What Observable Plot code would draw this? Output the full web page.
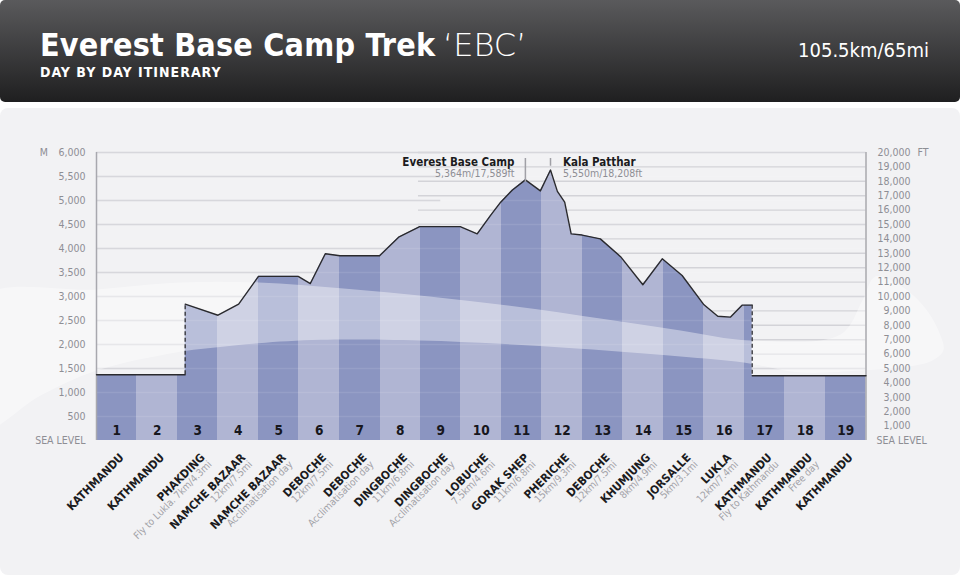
<!DOCTYPE html>
<html>
<head>
<meta charset="utf-8">
<script src="https://cdn.jsdelivr.net/npm/d3@7"></script>
<script src="https://cdn.jsdelivr.net/npm/@observablehq/plot@0.6"></script>
<style>
  html, body { margin: 0; padding: 0; background: #ffffff; }
  #wrap { position: relative; width: 960px; height: 577px; overflow: hidden; }
  #header { position: absolute; left: 0; top: 0; width: 960px; height: 102px;
            background: linear-gradient(#5a5a5c, #1f1f20); border-radius: 5px; }
  #header svg { position: absolute; left: 0; top: 0; }
  #panel { position: absolute; left: 0; top: 108px; width: 960px; height: 467px;
           background: #f2f2f4; border-radius: 8px; overflow: hidden; }
  #panel svg { display: block; }
</style>
</head>
<body>
<div id="wrap">
  <div id="header">
    <svg width="960" height="102">
      <text x="40" y="56" fill="#ffffff" font-family="DejaVu Sans Condensed" font-weight="bold" font-size="32" letter-spacing="0.2">Everest Base Camp Trek</text>
      <text x="443" y="56" fill="#ffffff" font-family="DejaVu Sans" font-weight="200" font-size="32">‘EBC’</text>
      <text x="40" y="77" fill="#ffffff" font-family="DejaVu Sans Condensed" font-weight="bold" font-size="14" letter-spacing="1">DAY BY DAY ITINERARY</text>
      <text x="929" y="57" fill="#ffffff" font-family="DejaVu Sans Condensed" font-size="20" text-anchor="end">105.5km/65mi</text>
    </svg>
  </div>
  <div id="panel"></div>
</div>
<script>
// ---------- data ----------
const days = [1,2,3,4,5,6,7,8,9,10,11,12,13,14,15,16,17,18,19];
const places = ["KATHMANDU","KATHMANDU","PHAKDING","NAMCHE BAZAAR","NAMCHE BAZAAR","DEBOCHE","DEBOCHE",
  "DINGBOCHE","DINGBOCHE","LOBUCHE","GORAK SHEP","PHERICHE","DEBOCHE","KHUMJUNG","JORSALLE","LUKLA",
  "KATHMANDU","KATHMANDU","KATHMANDU"];
const notes = ["","","Fly to Lukla. 7km/4.3mi","12km/7.5mi","Acclimatisation day","12km/7.5mi",
  "Acclimatisation day","11km/6.8mi","Acclimatisation day","7.5km/4.6mi","11km/6.8mi","15km/9.3mi",
  "12km/7.5mi","8km/4.9mi","5km/3.1mi","12km/7.4mi","Fly to Kathmandu","Free day",""];
const meterTicks = [0,500,1000,1500,2000,2500,3000,3500,4000,4500,5000,5500,6000];
const feetTicks = [0,1000,2000,3000,4000,5000,6000,7000,8000,9000,10000,11000,12000,13000,14000,
  15000,16000,17000,18000,19000,20000];
// the right-hand axis of the picture puts 20,000 ft level with 6,000 m
const feetTop = 20000, meterTop = 6000;

// elevation profile: position (in day columns) and metres
const profileDay = [0.5,2.69,2.69,3.50,4.01,4.50,5.48,5.78,6.15,6.51,7.49,7.96,8.48,9.48,9.90,10.23,10.48,
  10.77,11.09,11.46,11.71,11.88,12.06,12.22,12.49,12.94,13.44,13.99,14.47,14.96,15.50,15.84,16.15,16.44,
  16.69,16.69,19.5];
const profileElev = [1370,1370,2840,2610,2840,3420,3420,3270,3890,3850,3850,4235,4455,4455,4305,4690,4965,
  5220,5430,5200,5635,5190,4965,4305,4280,4200,3830,3245,3785,3437,2827,2590,2570,2820,
  2820,1350,1350];

// summit annotations
const peakIndex = [18, 20];
const peakNames = ["Everest Base Camp", "Kala Patthar"];
const peakHeights = ["5,364m/17,589ft", "5,550m/18,208ft"];
const peakLeaderTop = [5875, 5875];
const peakLeaderBottom = [5380, 5715];

// decorative swoosh outline (day position, metres)
const swooshDay = [-2.36,0.5,2.57,4.5,6.6,8.72,10.85,12.94,14.92,16.65,18.87,19.41,19.73,20.35,20.97,21.34,21.41,
  21.09,20.35,19.36,17.88,16.48,14.92,12.45,10.48,8.5,6.03,4.5,3.49,2.5,0.5,-0.88,-2.36];
const swooshElev = [2958,3146,3292,3292,3167,3000,2792,2542,2292,2083,2208,2917,3417,3229,2750,2188,1875,
  1646,1521,1458,1417,1625,1750,1910,2014,2083,2098,2027,1944,1840,1458,938,208];

const meterGridDays = [0.5, 9.0];
const feetGridDays = [8.45, 19.5];

const darkStripe = "#8b95c1", lightStripe = "#b0b5d3";

// ---------- tables ----------
const dayRows = days.map((d, i) => ({day: d, place: places[i], note: notes[i]}));
let seg = 0;
const profile = profileDay.map((d, i) => {
  if (i > 0 && d === profileDay[i - 1]) seg++;
  return {day: d, elev: profileElev[i], seg};
});
const jumps = [];
for (let i = 1; i < profileDay.length; i++) {
  if (profileDay[i] === profileDay[i - 1]) jumps.push({day: profileDay[i], from: profileElev[i - 1], to: profileElev[i]});
}
const swoosh = swooshDay.map((d, i) => ({day: d, elev: swooshElev[i]}));
const peaks = peakIndex.map((p, i) => ({day: profileDay[p], name: peakNames[i], h: peakHeights[i],
  top: peakLeaderTop[i], bottom: peakLeaderBottom[i]}));
const ftToGrid = ft => ft * meterTop / feetTop;
const fmt = d3.format(",");

const gridStroke = "#d3d3d8";
const axisGray = "#8e8e94";

const chart = Plot.plot({
  width: 960,
  height: 467,
  marginTop: 44,
  marginBottom: 135,
  marginLeft: 96,
  marginRight: 94.5,
  x: {domain: [0.5, 19.5], axis: null},
  y: {domain: [0, meterTop], axis: null},
  style: {background: "none", overflow: "visible", fontFamily: "DejaVu Sans Condensed"},
  marks: [
    Plot.ruleY(meterTicks.filter(t => t > 0), {x1: meterGridDays[0], x2: meterGridDays[1], stroke: gridStroke, strokeWidth: 1.4}),
    Plot.ruleY(feetTicks.filter(t => t > 0), {y: ftToGrid, x1: feetGridDays[0], x2: feetGridDays[1], stroke: gridStroke, strokeWidth: 1.4}),
    Plot.areaY(profile, {x: "day", y1: 0, y2: "elev", fill: "url(#dayStripes)"}),
    Plot.ruleY(meterTicks.filter(t => t > 0), {x1: 0.5, x2: 19.5, stroke: "#ffffff", strokeOpacity: 0.1, strokeWidth: 1.4}),
    Plot.line(swoosh, {x: "day", y: "elev", fill: "#ffffff", fillOpacity: 0.4, stroke: "none", curve: "catmull-rom-closed"}),
    Plot.ruleX([0.5, 19.5], {y1: 0, y2: meterTop, stroke: "#a8a8ae", strokeWidth: 1.5}),
    Plot.line(profile, {x: "day", y: "elev", z: "seg", stroke: "#2a2a2e", strokeWidth: 1.4}),
    Plot.ruleX(jumps, {x: "day", y1: "from", y2: "to", stroke: "#3a3a40", strokeWidth: 1.4, strokeDasharray: "4,2.5"}),
    // day numbers
    Plot.text(days, {x: d => d, y: 0, dy: -9.5, lineAnchor: "middle", text: d => String(d),
      fontWeight: "bold", fontSize: 13.5, fill: "#17171d"}),
    // left axis
    Plot.text(meterTicks, {y: d => d, text: d => d === 0 ? "SEA LEVEL" : fmt(d), frameAnchor: "left",
      dx: -11, textAnchor: "end", lineAnchor: "middle", fill: axisGray, fontSize: 10.5}),
    Plot.text(["M"], {y: meterTop, frameAnchor: "left", dx: -48.7, textAnchor: "end", lineAnchor: "middle", fill: axisGray, fontSize: 10.5}),
    // right axis
    Plot.text(feetTicks.filter(t => t > 0), {y: ftToGrid, text: fmt, frameAnchor: "right",
      dx: 44.5, textAnchor: "end", lineAnchor: "middle", fill: axisGray, fontSize: 10.5}),
    Plot.text(["SEA LEVEL"], {y: 0, frameAnchor: "right", dx: 10.5, textAnchor: "start", lineAnchor: "middle", fill: axisGray, fontSize: 10.5}),
    Plot.text(["FT"], {y: meterTop, frameAnchor: "right", dx: 51.5, textAnchor: "start", lineAnchor: "middle", fill: axisGray, fontSize: 10.5}),
    // rotated day labels
    Plot.text(dayRows, {x: "day", y: 0, text: "place", rotate: -45, textAnchor: "end", lineAnchor: "top",
      dx: 2, dy: 12, fontWeight: "bold", fontSize: 11.5, fill: "#1b1b20"}),
    Plot.text(dayRows, {x: "day", y: 0, text: "note", rotate: -45, textAnchor: "end", lineAnchor: "top",
      dx: 9.5, dy: 19.5, fontSize: 10, fill: "#a2a2a8"}),
    // summit annotations
    Plot.ruleX(peaks, {x: "day", y1: "top", y2: "bottom", stroke: "#a0a0a6", strokeWidth: 1.5}),
    Plot.text([peaks[0]], {x: "day", frameAnchor: "top", text: "name", dx: -11, dy: 13, lineAnchor: "bottom",
      textAnchor: "end", fontWeight: "bold", fontSize: 11.5, fill: "#1b1b20"}),
    Plot.text([peaks[0]], {x: "day", frameAnchor: "top", text: "h", dx: -11, dy: 24.7, lineAnchor: "bottom",
      textAnchor: "end", fontSize: 10.5, fill: axisGray}),
    Plot.text([peaks[1]], {x: "day", frameAnchor: "top", text: "name", dx: 12.4, dy: 13, lineAnchor: "bottom",
      textAnchor: "start", fontWeight: "bold", fontSize: 11.5, fill: "#1b1b20"}),
    Plot.text([peaks[1]], {x: "day", frameAnchor: "top", text: "h", dx: 12.4, dy: 24.7, lineAnchor: "bottom",
      textAnchor: "start", fontSize: 10.5, fill: axisGray})
  ]
});

// striped day-column fill for the area, built from the x scale
const xs = chart.scale("x");
const ns = "http://www.w3.org/2000/svg";
const defs = document.createElementNS(ns, "defs");
const grad = document.createElementNS(ns, "linearGradient");
const x0 = xs.apply(days[0] - 0.5), x1 = xs.apply(days[days.length - 1] + 0.5);
grad.setAttribute("id", "dayStripes");
grad.setAttribute("gradientUnits", "userSpaceOnUse");
grad.setAttribute("x1", x0); grad.setAttribute("x2", x1);
grad.setAttribute("y1", 0); grad.setAttribute("y2", 0);
days.forEach((d, i) => {
  const c = d % 2 === 1 ? darkStripe : lightStripe;
  [d - 0.5, d + 0.5].forEach(v => {
    const s = document.createElementNS(ns, "stop");
    s.setAttribute("offset", (xs.apply(v) - x0) / (x1 - x0));
    s.setAttribute("stop-color", c);
    grad.appendChild(s);
  });
});
defs.appendChild(grad);
chart.insertBefore(defs, chart.firstChild);
document.getElementById("panel").appendChild(chart);
</script>
</body>
</html>
